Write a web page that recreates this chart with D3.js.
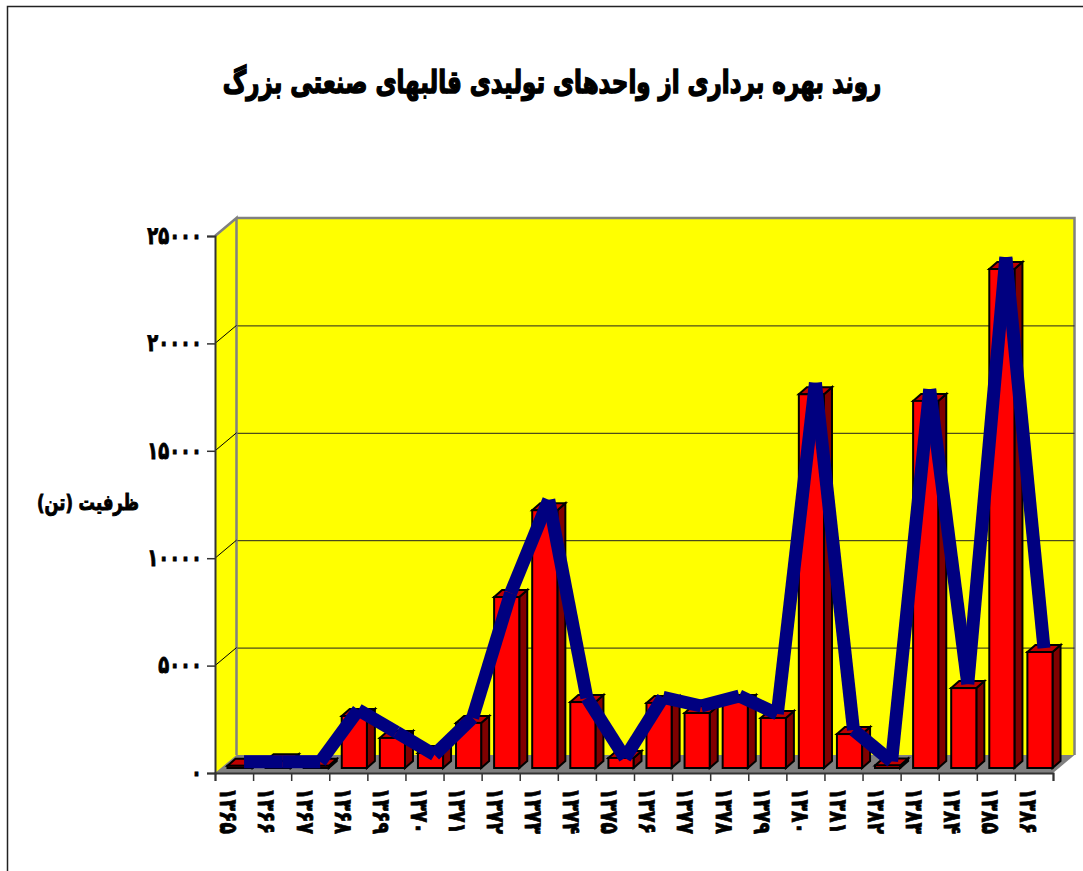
<!DOCTYPE html>
<html><head><meta charset="utf-8">
<style>html,body{margin:0;padding:0;background:#fff;overflow:hidden}
text{font-family:"DejaVu Sans",sans-serif;font-weight:bold;fill:#000;stroke:#000;paint-order:stroke}</style>
<script src="https://cdnjs.cloudflare.com/ajax/libs/d3/7.8.5/d3.min.js"></script></head>
<body><div id="c"></div>
<script>
const titleText = "روند بهره برداری از واحدهای تولیدی قالبهای صنعتی بزرگ";
const yAxisTitle = "ظرفیت (تن)";
const years = [1365,1366,1367,1368,1369,1370,1371,1372,1373,1374,1375,1376,1377,1378,1379,1380,1381,1382,1383,1384,1385,1386];
const barValues = [100,320,100,2420,1400,700,2100,7960,12000,3070,470,3030,2560,3070,2330,17400,1580,120,17090,3720,23230,5400];
const lineValues = [100,100,100,2520,1480,430,2150,7960,12300,3070,280,3100,2700,3170,2330,17750,1580,120,17450,3720,23600,5400];
const yTicks = [0,5000,10000,15000,20000,25000];

const W=1083,H=871;
const fa = v => String(v).replace(/\d/g,d=>"۰۱۲۳۴۵۶۷۸۹"[+d]);
const svg=d3.select("#c").append("svg").attr("width",W).attr("height",H).style("display","block");
const x=d3.scaleBand().domain(years).range([215,1053]).paddingInner(0.34).paddingOuter(0.17);
const y=d3.scaleLinear().domain([0,25000]).range([773,236]);
const wallDx=21.5, wallDy=18, barShift=6, barLift=5, depthX=8, depthY=7;

// frame
svg.append("path").attr("d",`M7.5,${H} V6.5 H${W}`).attr("fill","none").attr("stroke","#222").attr("stroke-width",1.5);

const [x0,x1]=x.range();
// walls and floor
svg.append("path").attr("fill","#ffff00")
  .attr("d",`M${x0},${y(0)} L${x0},${y(25000)} L${x0+wallDx},${y(25000)-wallDy} H${x1+wallDx} V${y(0)-wallDy} Z`);
svg.append("path").attr("fill","#808080")
  .attr("d",`M${x0},${y(0)} L${x0+wallDx},${y(0)-wallDy} H${x1+wallDx} L${x1},${y(0)} Z`);
svg.append("path").attr("fill","none").attr("stroke","#808080").attr("stroke-width",2.5)
  .attr("d",`M${x0},${y(25000)} L${x0+wallDx},${y(25000)-wallDy} V${y(0)-wallDy} M${x0+wallDx},${y(25000)-wallDy} H${x1+wallDx} V${y(0)-wallDy}`);
// grid
const grid=svg.append("g").attr("fill","none").attr("stroke","#222").attr("stroke-width",1);
yTicks.filter(t=>t>0&&t<25000).forEach(t=>{
  grid.append("path").attr("d",`M${x0},${y(t)} L${x0+wallDx},${y(t)-wallDy}`).attr("stroke","#000");
  grid.append("line").attr("x1",x0+wallDx+1).attr("x2",x1+wallDx).attr("y1",y(t)-wallDy+.5).attr("y2",y(t)-wallDy+.5);
});

// bars
const bars=svg.append("g").selectAll("g").data(barValues).join("g")
  .attr("stroke","#000").attr("stroke-width",2).attr("stroke-linejoin","miter");
const bx=(i)=>x(years[i])+barShift, bw=x.bandwidth();
const barTop=v=>y(v)-barLift, base=y(0)-barLift;
bars.append("path").attr("fill","#800000")
  .attr("d",(v,i)=>`M${bx(i)+bw},${barTop(v)} l${depthX},${-depthY} V${base-depthY} L${bx(i)+bw},${base} Z`);
bars.append("path").attr("fill","#c00000")
  .attr("d",(v,i)=>`M${bx(i)},${barTop(v)} l${depthX},${-depthY} h${bw} l${-depthX},${depthY} Z`);
bars.append("rect").attr("fill","#ff0000")
  .attr("x",(v,i)=>bx(i)).attr("y",v=>barTop(v)).attr("width",bw).attr("height",v=>base-barTop(v));

// line, each segment butt-ended
const lx=i=>x(years[i])+barShift+bw/2+depthX/2, ly=v=>y(v)-barLift-depthY/2-0.5;
const segs=d3.pairs(lineValues.map((v,i)=>[lx(i),ly(v)]));
svg.append("g").selectAll("line").data(segs).join("line")
  .attr("x1",d=>d[0][0]).attr("y1",d=>d[0][1]).attr("x2",d=>d[1][0]).attr("y2",d=>d[1][1])
  .attr("stroke","#000080").attr("stroke-width",13).attr("stroke-linecap","butt");

// axes
const ay=svg.append("g").attr("transform",`translate(${x0},0)`)
  .call(d3.axisLeft(y).tickValues(yTicks).tickSize(8).tickPadding(5).tickFormat(fa));
const ax=svg.append("g").attr("transform",`translate(0,${y(0)})`)
  .call(d3.axisBottom(d3.scalePoint().domain(d3.range(years.length+1)).range([x0,x1])).tickSize(8).tickFormat(""));
[ay,ax].forEach(a=>{a.selectAll("path,line").attr("stroke","#333").attr("stroke-width",1.5);a.select(".domain").attr("stroke-width",2);});
ay.selectAll("text").attr("font-size",23).attr("font-family","DejaVu Sans").attr("font-weight","bold")
  .attr("x",0).attr("dy","0.3em").attr("fill","#000").attr("stroke-width",0.9)
  .attr("transform","translate(-13,0) scale(.78,1.05)");

// rotated year labels
const step=(x1-x0)/years.length;
svg.append("g").selectAll("text").data(years).join("text")
  .attr("transform",(d,i)=>`translate(${x0+step*(i+.5)-5},788) rotate(90) scale(.9,1.15)`)
  .attr("text-anchor","start").attr("dy","0.36em").attr("font-size",21).attr("stroke-width",0.7)
  .text(fa);

svg.append("text").attr("transform","translate(552,93) scale(.85,1.15)").attr("text-anchor","middle").attr("direction","rtl")
  .attr("font-size",27).attr("stroke-width",1.3).text(titleText);
svg.append("text").attr("transform","translate(88,510) scale(.82,1.1)").attr("text-anchor","middle").attr("direction","rtl")
  .attr("font-size",20).attr("stroke-width",.9).text(yAxisTitle);
</script></body></html>
